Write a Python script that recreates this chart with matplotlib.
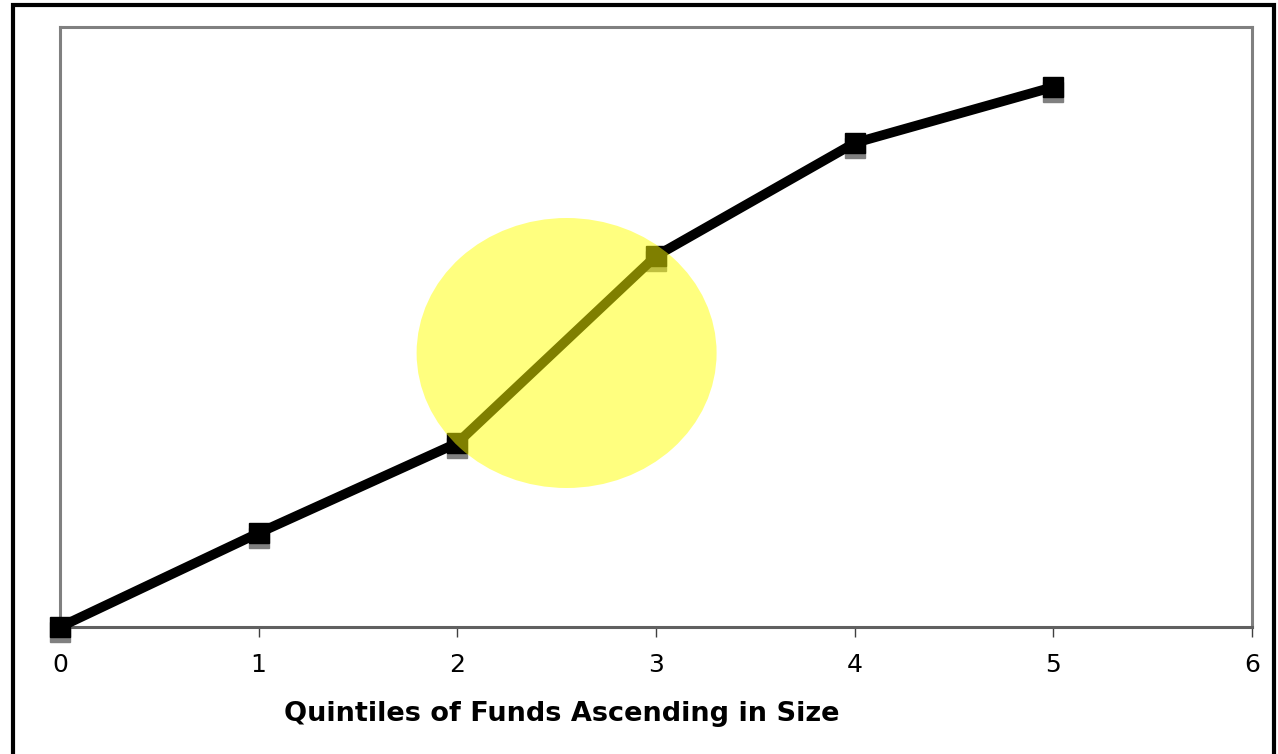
import matplotlib.pyplot as plt
import matplotlib.transforms as mtransforms
from matplotlib.patches import Ellipse, Rectangle

# quintiles and cumulative measure (no y scale shown)
quintiles = [0, 1, 2, 3, 4, 5]
values = [0.0, 0.94, 1.84, 3.71, 4.84, 5.40]
xticks = [0, 1, 2, 3, 4, 5, 6]
xlabel = 'Quintiles of Funds Ascending in Size'

fig = plt.figure(figsize=(12.78, 7.54), dpi=100)
ax = fig.add_axes([60/1278, 1 - 627/754, (1252-60)/1278, (627-27)/754])

# outer frame
fig.patches.append(Rectangle((12.5/1278, -0.05), (1274-12.5)/1278, 1.05 - 5/754,
                             transform=fig.transFigure, fill=False,
                             edgecolor='black', linewidth=3, zorder=0))

# gray drop shadow under the markers
shadow = ax.transData + mtransforms.ScaledTranslation(0, -5/100, fig.dpi_scale_trans)
ax.plot(quintiles, values, linestyle='none', marker='s', markersize=15,
        color='#808080', transform=shadow, clip_on=False, zorder=2)
ax.plot(quintiles, values, color='black', linewidth=7, marker='s',
        markersize=15, clip_on=False, zorder=3)

# highlight
ax.add_patch(Ellipse((2.55, 2.74), 1.51, 2.70, facecolor='yellow',
                     alpha=0.5, edgecolor='none', zorder=4))

ax.set_xlim(0, 6)
ax.set_ylim(0, 6)
ax.set_xticks(xticks)
ax.set_xticklabels([str(t) for t in xticks])
ax.set_yticks([])
ax.tick_params(axis='x', direction='out', length=7, width=1, color='#404040',
               labelsize=18, pad=12)
for s in ax.spines.values():
    s.set_color('#808080')
    s.set_linewidth(2.2)
ax.spines['bottom'].set_color('#606060')

fig.text(562/1278, 1 - 714/754, xlabel, ha='center', va='center',
         fontsize=19.5, fontweight='bold')

fig.savefig('out.png', dpi=100)
